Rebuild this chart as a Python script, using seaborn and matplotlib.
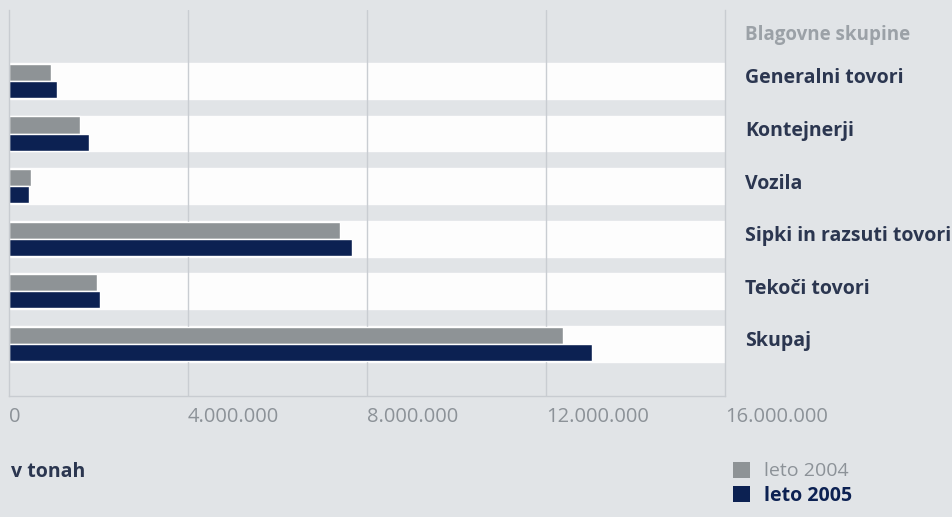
import matplotlib
matplotlib.use("Agg")
import matplotlib.pyplot as plt
import seaborn as sns
import pandas as pd
from matplotlib.patches import Patch

categories = ["Generalni tovori", "Kontejnerji", "Vozila",
              "Sipki in razsuti tovori", "Tekoči tovori", "Skupaj"]
values_2004 = [940000, 1590000, 490000, 7400000, 1970000, 12380000]
values_2005 = [1070000, 1790000, 450000, 7660000, 2030000, 13030000]
series_labels = ["leto 2004", "leto 2005"]
tick_values = [0, 4000000, 8000000, 12000000, 16000000]
tick_labels = ["0", "4.000.000", "8.000.000", "12.000.000", "16.000.000"]
header = "Blagovne skupine"
unit_label = "v tonah"

BG = "#e1e4e7"
GREY = "#8e9396"
NAVY = "#0c2152"
TXT = "#2b3650"
LIGHT_TXT = "#8c9298"

sns.set_theme(style="white")
FONT = ["Open Sans", "DejaVu Sans"]
plt.rcParams["font.family"] = FONT

df = pd.DataFrame({
    "kategorija": categories * 2,
    "vrednost": values_2004 + values_2005,
    "leto": [series_labels[0]] * len(categories) + [series_labels[1]] * len(categories),
})

fig = plt.figure(figsize=(9.52, 5.17), dpi=100, facecolor=BG)
ax = fig.add_axes([9 / 952, 1 - 396 / 517, 716 / 952, 386 / 517])
ax.set_facecolor(BG)

for i in range(len(categories)):
    ax.axhspan(i - 0.34, i + 0.34, color="#fdfdfd", zorder=0)

for t in tick_values[1:-1]:
    ax.axvline(t, color="#c9cdd2", lw=1, zorder=0.5)

sns.barplot(data=df, y="kategorija", x="vrednost", hue="leto",
            orient="h", palette=[GREY, NAVY], width=0.65,
            saturation=1, ax=ax, zorder=2, legend=False)

ax.set_xlim(0, 16000000)
ax.set_ylim(5.99, -1.35)
ax.set_xlabel("")
ax.set_ylabel("")
ax.set_yticks([])
ax.set_xticks(tick_values)
ax.set_xticklabels(tick_labels, ha="left", color=LIGHT_TXT, fontsize=14.5)
ax.tick_params(axis="x", length=0, pad=8)

ax.spines["top"].set_visible(False)
for side in ["right", "bottom", "left"]:
    ax.spines[side].set_color("#c8ccd1")
    ax.spines[side].set_linewidth(1)

tr = ax.get_yaxis_transform()
xlab = 1 + 20 / 716
ax.text(xlab, -0.87, header, transform=tr, ha="left", va="center",
        color="#9ba1a7", fontsize=13.5, fontweight="bold", clip_on=False)
for i, c in enumerate(categories):
    ax.text(xlab, i - 0.05, c, transform=tr, ha="left", va="center",
            color=TXT, fontsize=14, fontweight="bold", clip_on=False)

fig.text(11 / 952, 1 - 472 / 517, unit_label, ha="left", va="center",
         color=TXT, fontsize=14, fontweight="bold")

handles = [Patch(facecolor=GREY, edgecolor="none"),
           Patch(facecolor=NAVY, edgecolor="none")]
leg = fig.legend(handles, series_labels, loc="upper left",
                 bbox_to_anchor=(733 / 952, 1 - 462 / 517),
                 frameon=False, handlelength=0.85, handleheight=0.85,
                 handletextpad=0.75, labelspacing=0.26, fontsize=14,
                 borderpad=0, borderaxespad=0)
texts = leg.get_texts()
texts[0].set_color(LIGHT_TXT)
texts[1].set_color(NAVY)
texts[1].set_fontweight("bold")

fig.savefig("out.png", dpi=100, facecolor=BG)
